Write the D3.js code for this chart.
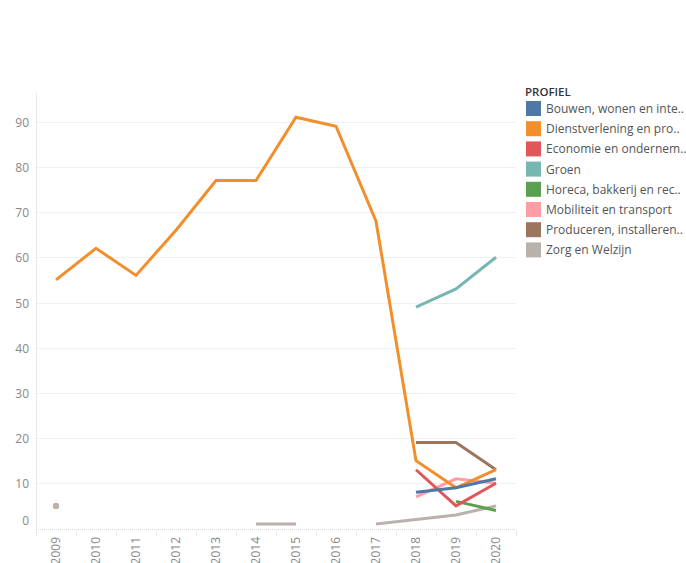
<!DOCTYPE html>
<html><head><meta charset="utf-8">
<script src="https://cdn.jsdelivr.net/npm/d3@7"></script>
<style>
html,body{margin:0;padding:0;background:#fff;}
svg{display:block;font-family:"Open Sans","Noto Sans",sans-serif;}
</style></head>
<body><svg id="c" width="686" height="563"></svg>
<script>
const years = [2009,2010,2011,2012,2013,2014,2015,2016,2017,2018,2019,2020];
const profiles = ["Bouwen, wonen en inte..","Dienstverlening en pro..","Economie en ondernem..","Groen","Horeca, bakkerij en rec..","Mobiliteit en transport","Produceren, installeren..","Zorg en Welzijn"];
const colors = ["#4e79a7","#f28e2b","#e15759","#76b7b2","#59a14f","#ff9da7","#9c755f","#bab0ac"];
// values per profile, aligned with years (null = no data)
const bouwen      = [null,null,null,null,null,null,null,null,null,8,9,11];
const dienst      = [55,62,56,66,77,77,91,89,68,15,9,13];
const economie    = [null,null,null,null,null,null,null,null,null,13,5,10];
const groen       = [null,null,null,null,null,null,null,null,null,49,53,60];
const horeca      = [null,null,null,null,null,null,null,null,null,null,6,4];
const mobiliteit  = [null,null,null,null,null,null,null,null,null,7,11,10];
const produceren  = [null,null,null,null,null,null,null,null,null,19,19,13];
const zorg        = [5,null,null,null,null,1,1,null,1,2,3,5];
const yTicks = [0,10,20,30,40,50,60,70,80,90];
const seriesValues = [bouwen,dienst,economie,groen,horeca,mobiliteit,produceren,zorg];

const svg = d3.select("#c");
const pLeft = 36, pRight = 516, pTop = 93, pBottom = 534;
const x = d3.scaleBand().domain(years).range([pLeft,pRight]);
const y = d3.scaleLinear().domain([0,90]).range([528.5,121.7]);
const FONT = '"Open Sans","Noto Sans",sans-serif';

// gridlines
svg.append("g").selectAll("line").data(yTicks.filter(d=>d>0)).join("line")
  .attr("x1",pLeft).attr("x2",pRight).attr("y1",d=>Math.round(y(d))+0.5).attr("y2",d=>Math.round(y(d))+0.5)
  .attr("stroke","#efefef").attr("stroke-width",1);
// zero line dotted
svg.append("line").attr("x1",pLeft).attr("x2",pRight).attr("y1",Math.round(y(0))+0.5).attr("y2",Math.round(y(0))+0.5)
  .attr("stroke","#d4d4d4").attr("stroke-width",1).attr("stroke-dasharray","1,1");
// y axis line
svg.append("line").attr("x1",pLeft+0.5).attr("x2",pLeft+0.5).attr("y1",pTop).attr("y2",pBottom)
  .attr("stroke","#e8e8e8").attr("stroke-width",1);

// y axis labels
const yAxis = svg.append("g").attr("transform",`translate(${pLeft},0)`)
  .call(d3.axisLeft(y).tickValues(yTicks).tickSize(0).tickPadding(7));
yAxis.select(".domain").remove();
yAxis.selectAll("text").attr("fill","#888").attr("font-size",12).attr("font-family",FONT)
  .attr("dy",d=>d===0?"-0.35em":"0.38em");

// x axis
const xAxis = svg.append("g").attr("transform",`translate(0,${pBottom-3})`)
  .call(d3.axisBottom(x).tickSize(0).tickPadding(0));
xAxis.select(".domain").remove();
xAxis.selectAll("text").attr("fill","#888").attr("font-size",12).attr("font-family",FONT)
  .attr("text-anchor","end").attr("transform","rotate(-90)").attr("x",-6).attr("y",0).attr("dy","0.35em");
// band boundary ticks
const bounds = years.map(d=>x(d)).concat([pRight]);
svg.append("g").selectAll("line").data(bounds).join("line")
  .attr("x1",d=>d+0.5).attr("x2",d=>d+0.5).attr("y1",y(0)+2).attr("y2",y(0)+8)
  .attr("stroke","#e8e8e8");

// lines (first legend item drawn on top)
const line = d3.line().defined(d=>d.v!==null).x(d=>x(d.year)+x.bandwidth()/2).y(d=>y(d.v));
const order = d3.range(seriesValues.length).reverse();
order.forEach(i=>{
  const vals = seriesValues[i];
  const data = years.map((yr,j)=>({year:yr,v:vals[j]}));
  svg.append("path").datum(data).attr("d",line).attr("fill","none")
    .attr("stroke",colors[i]).attr("stroke-width",3).attr("stroke-linejoin","miter");
  data.forEach((d,j)=>{
    if(d.v===null) return;
    const prev = j>0 ? data[j-1].v : null, next = j<data.length-1 ? data[j+1].v : null;
    if(prev===null && next===null){
      svg.append("circle").attr("cx",x(d.year)+x.bandwidth()/2).attr("cy",y(d.v)).attr("r",3.2).attr("fill",colors[i]);
    }
  });
});

// legend
const lg = svg.append("g").attr("transform","translate(525,0)");
lg.append("text").attr("x",0).attr("y",96).text("PROFIEL").attr("font-size",11.5).attr("font-weight",600).attr("fill","#333");
profiles.forEach((p,i)=>{
  lg.append("rect").attr("x",1).attr("y",101+i*20.2).attr("width",15).attr("height",15).attr("fill",colors[i]);
  lg.append("text").attr("x",21).attr("y",113+i*20.2).text(p).attr("font-size",12).attr("fill","#555");
});
</script></body></html>
